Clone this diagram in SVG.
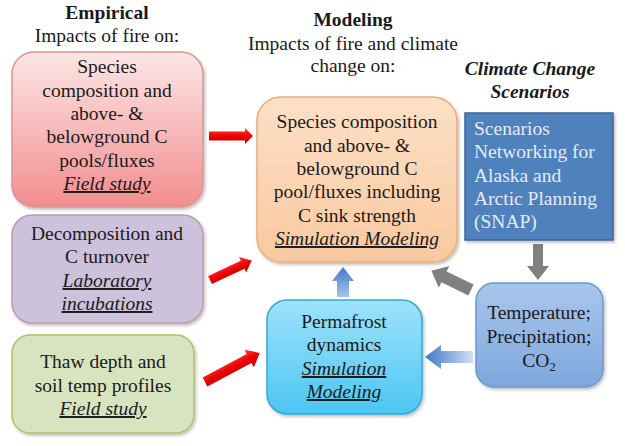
<svg xmlns="http://www.w3.org/2000/svg" width="625" height="446" viewBox="0 0 625 446" font-family="'Liberation Serif', 'DejaVu Serif', serif">
<defs>
<style>
text{font-family:"Liberation Serif","Times New Roman",serif;font-size:19.5px;fill:#1a1a1a}
.c{text-anchor:middle}
.b{font-weight:bold}
.i{font-style:italic}
.u{text-decoration:underline}
.w{fill:#e4ecf7}
.box{stroke-width:1.5}
</style>
<linearGradient id="gPink" x1="0" y1="0" x2="0" y2="1"><stop offset="0" stop-color="#fde6e6"/><stop offset="1" stop-color="#f28d8e"/></linearGradient>
<linearGradient id="gOrange" x1="0" y1="0" x2="0" y2="1"><stop offset="0" stop-color="#fde0c6"/><stop offset="1" stop-color="#f9c9a0"/></linearGradient>
<linearGradient id="gPerma" x1="0" y1="0" x2="0" y2="1"><stop offset="0" stop-color="#9ee2fb"/><stop offset="1" stop-color="#4cc6f2"/></linearGradient>
<linearGradient id="gTemp" x1="0" y1="0" x2="0" y2="1"><stop offset="0" stop-color="#a7c6ec"/><stop offset="1" stop-color="#7fa7dd"/></linearGradient>
<linearGradient id="gRed" x1="0" y1="0" x2="0" y2="1"><stop offset="0" stop-color="#ff4040"/><stop offset="0.5" stop-color="#ee0000"/><stop offset="1" stop-color="#c00000"/></linearGradient>
<linearGradient id="gBlueUp" x1="0" y1="1" x2="0" y2="0"><stop offset="0" stop-color="#a9c4ea"/><stop offset="1" stop-color="#3f78c8"/></linearGradient>
<linearGradient id="gBlueLeft" x1="1" y1="0" x2="0" y2="0"><stop offset="0" stop-color="#d0e0f5"/><stop offset="1" stop-color="#3f78c8"/></linearGradient>
<filter id="sh" x="-10%" y="-10%" width="125%" height="125%"><feDropShadow dx="1.5" dy="2" stdDeviation="1.5" flood-color="#000" flood-opacity="0.25"/></filter>
</defs>

<g id="headers">
<text class="c b" x="107" y="19">Empirical</text>
<text class="c" x="107" y="42">Impacts of fire on:</text>
<text class="c b" x="353" y="26">Modeling</text>
<text class="c" x="353" y="50">Impacts of fire and climate</text>
<text class="c" x="353" y="72">change on:</text>
<text class="c b i" x="530" y="75">Climate Change</text>
<text class="c b i" x="530" y="98">Scenarios</text>
</g>

<g id="connectors">
<g fill="url(#gRed)">
<polygon points="0,-4.5 36,-4.5 36,-8 44,0 36,8 36,4.5 0,4.5" transform="translate(209,136)"/>
<polygon points="0,-4.5 36,-4.5 36,-8.5 46,0 36,8.5 36,4.5 0,4.5" transform="translate(210,280) rotate(-25)"/>
<polygon points="0,-5 50,-5 50,-10 62,0 50,10 50,5 0,5" transform="translate(205,382) rotate(-28)"/>
</g>
<polygon points="337,297 337,281 332,281 343,267 354,281 349,281 349,297" fill="url(#gBlueUp)"/>
<polygon points="473,351 441,351 441,345 425,357 441,369 441,363 473,363" fill="url(#gBlueLeft)"/>
<polygon points="533,244 543,244 543,266 549,266 538,280 527,266 533,266" fill="#808080"/>
<polygon points="0,-6 30,-6 30,-12 44,0 30,12 30,6 0,6" transform="translate(471,290) rotate(-154)" fill="#808080"/>
</g>

<g id="n-species-empirical">
<rect class="box" x="12" y="52" width="191" height="155" rx="22" fill="url(#gPink)" stroke="#d99595" filter="url(#sh)"/>
<text class="c" x="107" y="73">Species</text>
<text class="c" x="107" y="97">composition and</text>
<text class="c" x="107" y="120">above- &amp;</text>
<text class="c" x="107" y="143">belowground C</text>
<text class="c" x="107" y="167">pools/fluxes</text>
<text class="c i u" x="107" y="190">Field study</text>
</g>

<g id="n-decomposition">
<rect class="box" x="12" y="215" width="191" height="108" rx="20" fill="#cdc2dc" stroke="#c09aaa" filter="url(#sh)"/>
<text class="c" x="107" y="240">Decomposition and</text>
<text class="c" x="107" y="263">C turnover</text>
<text class="c i u" x="107" y="287">Laboratory</text>
<text class="c i u" x="107" y="310">incubations</text>
</g>

<g id="n-thaw">
<rect class="box" x="12" y="335" width="182" height="98" rx="18" fill="#d8e4bf" stroke="#a8c46e" filter="url(#sh)"/>
<text class="c" x="103" y="368">Thaw depth and</text>
<text class="c" x="103" y="392">soil temp profiles</text>
<text class="c i u" x="103" y="415">Field study</text>
</g>

<g id="n-species-model">
<rect class="box" x="257" y="97" width="200" height="165" rx="24" fill="url(#gOrange)" stroke="#e8ad78" filter="url(#sh)"/>
<text class="c" x="357" y="128">Species composition</text>
<text class="c" x="357" y="152">and above- &amp;</text>
<text class="c" x="357" y="175">belowground C</text>
<text class="c" x="357" y="198">pool/fluxes including</text>
<text class="c" x="357" y="222">C sink strength</text>
<text class="c i u" x="357" y="245">Simulation Modeling</text>
</g>

<g id="n-snap">
<rect class="box" x="465" y="113" width="148" height="127" fill="#4f81bd" stroke="#3a659a" filter="url(#sh)"/>
<text class="w" x="474" y="135">Scenarios</text>
<text class="w" x="474" y="158">Networking for</text>
<text class="w" x="474" y="182">Alaska and</text>
<text class="w" x="474" y="205">Arctic Planning</text>
<text class="w" x="474" y="228">(SNAP)</text>
</g>

<g id="n-temperature">
<rect class="box" x="476" y="283" width="127" height="104" rx="18" fill="url(#gTemp)" stroke="#7096cc" filter="url(#sh)"/>
<text class="c" x="539" y="319">Temperature;</text>
<text class="c" x="539" y="343">Precipitation;</text>
<text class="c" x="539" y="367">CO<tspan font-size="13" dy="4">2</tspan></text>
</g>

<g id="n-permafrost">
<rect class="box" x="267" y="300" width="155" height="114" rx="20" fill="url(#gPerma)" stroke="#33a9d9" filter="url(#sh)"/>
<text class="c" x="344" y="328">Permafrost</text>
<text class="c" x="344" y="351">dynamics</text>
<text class="c i u" x="344" y="375">Simulation</text>
<text class="c i u" x="344" y="398">Modeling</text>
</g>
</svg>
